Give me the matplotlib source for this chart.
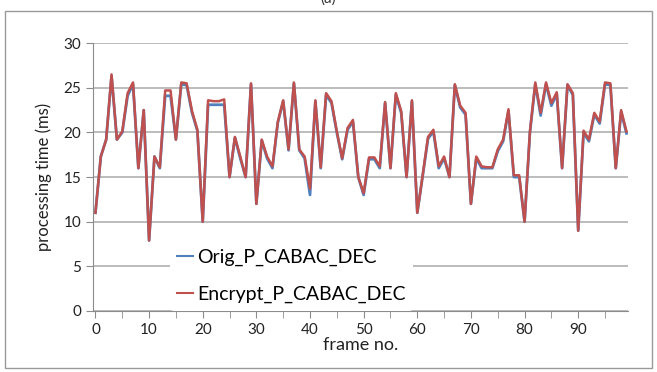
import numpy as np
import matplotlib
matplotlib.use("Agg")
from matplotlib import pyplot as plt
from matplotlib.patches import Rectangle

# processing time per frame (ms)
frames = np.arange(100)
encrypt = [11.0, 17.3, 19.2, 26.5, 19.2, 20.1, 24.4, 25.6, 16.0, 22.5,
           7.9, 17.3, 16.1, 24.7, 24.7, 19.2, 25.6, 25.5, 22.4, 20.3,
           10.0, 23.6, 23.5, 23.5, 23.7, 15.0, 19.5, 17.3, 15.0, 25.5,
           12.0, 19.2, 17.3, 16.2, 21.2, 23.6, 18.1, 25.6, 18.1, 17.3,
           13.7, 23.6, 16.1, 24.4, 23.5, 20.1, 17.1, 20.5, 21.4, 15.0,
           13.2, 17.2, 17.2, 16.2, 23.4, 16.0, 24.4, 22.4, 15.0, 23.6,
           11.0, 15.2, 19.5, 20.3, 16.2, 17.3, 15.0, 25.4, 23.0, 22.2,
           12.0, 17.3, 16.2, 16.1, 16.1, 18.1, 19.2, 22.6, 15.2, 15.2,
           10.0, 20.1, 25.6, 22.2, 25.6, 23.3, 24.5, 16.0, 25.4, 24.4,
           9.0, 20.2, 19.2, 22.2, 21.2, 25.6, 25.5, 16.0, 22.5, 20.1]
orig = [11.0, 17.3, 19.2, 26.3, 19.2, 20.0, 24.1, 25.4, 16.0, 22.5,
        7.9, 17.3, 16.0, 24.1, 24.1, 19.2, 25.4, 25.3, 22.2, 20.2,
        10.0, 23.1, 23.1, 23.1, 23.1, 15.0, 19.4, 17.1, 15.0, 25.4,
        12.0, 19.1, 17.1, 16.0, 21.1, 23.5, 18.0, 25.5, 18.0, 17.1,
        13.0, 23.5, 16.0, 24.2, 23.3, 20.0, 17.0, 20.3, 21.2, 15.0,
        13.0, 17.0, 17.0, 16.0, 23.3, 16.0, 24.2, 22.2, 15.0, 23.5,
        11.0, 15.1, 19.3, 20.1, 16.0, 17.1, 15.0, 25.3, 22.8, 22.0,
        12.0, 17.1, 16.0, 16.0, 16.0, 17.9, 19.0, 22.4, 15.0, 15.0,
        10.0, 20.0, 25.4, 21.9, 25.4, 23.0, 24.3, 16.0, 25.3, 24.2,
        9.0, 20.0, 19.0, 22.0, 21.0, 25.4, 25.3, 16.0, 22.3, 19.9]

plt.rcParams['font.family'] = ['Lato', 'DejaVu Sans']

fig = plt.figure(figsize=(6.57, 3.72), dpi=100)
ax = fig.add_axes([0.1416, 0.164, 0.8144, 0.72])

# outer chart frame
fig.patches.append(Rectangle((0.008, 0.012), 0.984, 0.958, transform=fig.transFigure,
                             fill=False, edgecolor='#9a9a9a', linewidth=1.0))
# caption above the frame, mostly cut off in the reference
fig.text(0.5, 1.003, "(a)", ha='center', va='center', fontsize=11, color='#333333')

ax.plot(frames, orig, color='#4F81BD', linewidth=2.0, label='Orig_P_CABAC_DEC')
ax.plot(frames, encrypt, color='#C0504D', linewidth=1.8, label='Encrypt_P_CABAC_DEC')

ax.set_xlim(-0.45, 99.3)
ax.set_ylim(0, 30)
ax.set_yticks(np.arange(0, 31, 5))
ax.set_xticks(np.arange(0, 100, 10))
ax.set_xticks(np.arange(0, 100, 5), minor=True)
ax.yaxis.grid(True, color='#b0b0b0', linewidth=1.2)
ax.set_axisbelow(True)

for s in ['top', 'right']:
    ax.spines[s].set_visible(False)
for s in ['left', 'bottom']:
    ax.spines[s].set_color('#8c8c8c')
ax.tick_params(axis='both', which='both', colors='#8c8c8c', labelcolor='#222222',
               labelsize=11)
ax.tick_params(axis='y', length=5)
ax.tick_params(axis='x', which='both', length=5)

ax.set_xlabel("frame no.", fontsize=13, color='#222222', labelpad=0)
ax.set_ylabel("processing time (ms)", fontsize=12, color='#222222', labelpad=8)

leg = ax.legend(loc='lower left', bbox_to_anchor=(0.125, -0.035), frameon=True,
                fontsize=14, handlelength=0.8, handletextpad=0.2,
                labelspacing=1.0, borderpad=0.4)
leg.get_frame().set_facecolor('white')
leg.get_frame().set_edgecolor('none')
leg.get_frame().set_alpha(1)
for line in leg.get_lines():
    line.set_linewidth(1.5)

fig.savefig("out.png", dpi=100)
